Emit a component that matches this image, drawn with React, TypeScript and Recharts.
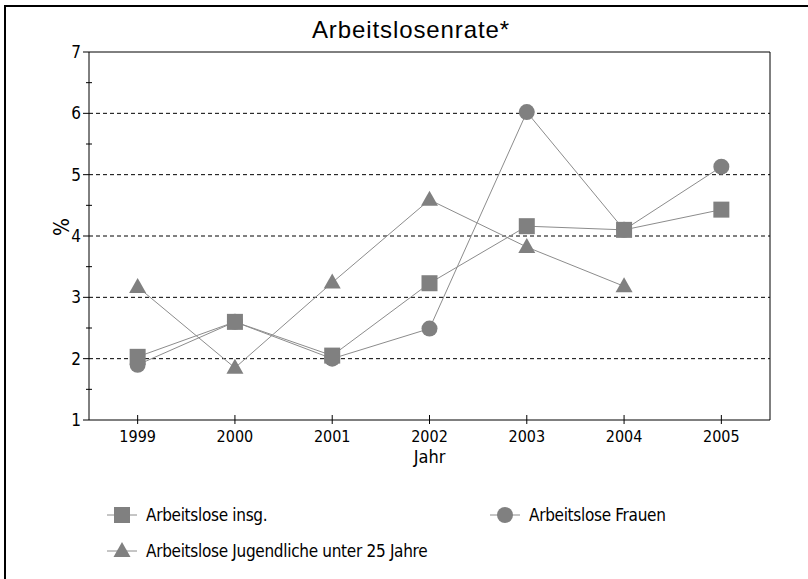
import { LineChart, Line, XAxis, YAxis, ReferenceLine } from "recharts";

const years = [1999, 2000, 2001, 2002, 2003, 2004, 2005];
const insg = [2.03, 2.6, 2.05, 3.23, 4.16, 4.1, 4.43];
const frauen = [1.9, 2.6, 2.0, 2.49, 6.02, 4.1, 5.13];
const jugend = [3.17, 1.85, 3.24, 4.59, 3.82, 3.18, null];

const yTicks = [1, 1.5, 2, 2.5, 3, 3.5, 4, 4.5, 5, 5.5, 6, 6.5, 7];
const gridLines = [2, 3, 4, 5, 6];

const data = years.map((y, i) => ({
  year: y,
  insg: insg[i],
  frauen: frauen[i],
  jugend: jugend[i],
}));

const NARROW = "'Liberation Sans Narrow', 'DejaVu Sans Condensed', 'Arial Narrow', sans-serif";
const MARK = "#808080";
const LINE = "#8c8c8c";

const Square = (p: any) => {
  if (p.cx == null || p.cy == null || p.value == null) return null;
  return <rect x={p.cx - 8} y={p.cy - 8} width={16} height={16} fill={MARK} />;
};
const Circle = (p: any) => {
  if (p.cx == null || p.cy == null || p.value == null) return null;
  return <circle cx={p.cx} cy={p.cy} r={8} fill={MARK} />;
};
const Triangle = (p: any) => {
  if (p.cx == null || p.cy == null || p.value == null) return null;
  const { cx, cy } = p;
  return <polygon points={`${cx},${cy - 9} ${cx + 8.5},${cy + 6} ${cx - 8.5},${cy + 6}`} fill={MARK} />;
};

const YTick = (p: any) => {
  const { x, y, payload } = p;
  const v = payload.value;
  const major = Number.isInteger(v);
  return (
    <g>
      {major ? (
        <line x1={x - 6} x2={x} y1={y} y2={y} stroke="#000" />
      ) : (
        <line x1={x - 3} x2={x + 3} y1={y} y2={y} stroke="#000" />
      )}
      {major && (
        <text x={x - 8} y={y} dy={6} textAnchor="end" fontFamily={NARROW} fontSize={17} fill="#000">
          {v}
        </text>
      )}
    </g>
  );
};

const XTick = (p: any) => {
  const { x, y, payload } = p;
  return (
    <g>
      <line x1={x} x2={x} y1={y - 5} y2={y + 4} stroke="#000" />
      <text x={x} y={y + 22} textAnchor="middle" fontFamily={NARROW} fontSize={16} fill="#000">
        {payload.value}
      </text>
    </g>
  );
};

const LegendItem = ({ icon, label, left, top }: any) => (
  <div style={{ position: "absolute", left, top, display: "flex", alignItems: "center", height: 20 }}>
    <svg width={32} height={20}>
      <line x1={1} x2={31} y1={10} y2={10} stroke={LINE} />
      {icon === "square" && <rect x={8} y={2} width={16} height={16} fill={MARK} />}
      {icon === "circle" && <circle cx={16} cy={10} r={8} fill={MARK} />}
      {icon === "triangle" && <polygon points="16,1 24.5,16 7.5,16" fill={MARK} />}
    </svg>
    <span style={{ marginLeft: 8, fontFamily: NARROW, fontSize: 17, color: "#000", letterSpacing: -0.3 }}>{label}</span>
  </div>
);

export default function App() {
  return (
    <div style={{ position: "fixed", left: 0, top: 0, width: 808, height: 579, background: "#fff", overflow: "hidden" }}>
      <div style={{ position: "absolute", left: 4, top: 5, width: 820, height: 600, borderLeft: "2px solid #000", borderTop: "2px solid #000" }} />
      <div style={{ position: "absolute", left: 0, width: 822, top: 16, textAlign: "center", fontFamily: "'Liberation Sans', Arial, sans-serif", fontSize: 24, letterSpacing: 0.9, color: "#000" }}>
        Arbeitslosenrate*
      </div>
      <LineChart width={808} height={579} data={data} margin={{ top: 52, right: 38, bottom: 119, left: 49 }} style={{ position: "absolute", left: 0, top: 0 }}>
        <XAxis
          dataKey="year"
          type="number"
          domain={[1998.5, 2005.5]}
          ticks={years}
          tickLine={false}
          tickSize={0}
          tickMargin={0}
          height={40}
          axisLine={{ stroke: "#000" }}
          tick={<XTick />}
          label={{ value: "Jahr", position: "insideBottom", offset: -3, fontFamily: NARROW, fontSize: 18, fill: "#000" }}
        />
        <YAxis
          type="number"
          domain={[1, 7]}
          ticks={yTicks}
          width={40}
          tickLine={false}
          tickSize={0}
          tickMargin={0}
          axisLine={{ stroke: "#000" }}
          tick={<YTick />}
          label={{ value: "%", angle: -90, position: "insideLeft", offset: 13, fontFamily: NARROW, fontSize: 21, fill: "#000" }}
        />
        {gridLines.map((g) => (
          <ReferenceLine key={g} y={g} stroke="#000" strokeDasharray="4 3" />
        ))}
        <ReferenceLine y={7} stroke="#000" />
        <ReferenceLine x={2005.5} stroke="#000" />
        <Line dataKey="frauen" stroke={LINE} strokeWidth={1} dot={<Circle />} activeDot={false} isAnimationActive={false} />
        <Line dataKey="jugend" stroke={LINE} strokeWidth={1} dot={<Triangle />} activeDot={false} isAnimationActive={false} />
        <Line dataKey="insg" stroke={LINE} strokeWidth={1} dot={<Square />} activeDot={false} isAnimationActive={false} />
      </LineChart>
      <LegendItem icon="square" label="Arbeitslose insg." left={106} top={505} />
      <LegendItem icon="circle" label="Arbeitslose Frauen" left={489} top={505} />
      <LegendItem icon="triangle" label="Arbeitslose Jugendliche unter 25 Jahre" left={106} top={541} />
    </div>
  );
}
